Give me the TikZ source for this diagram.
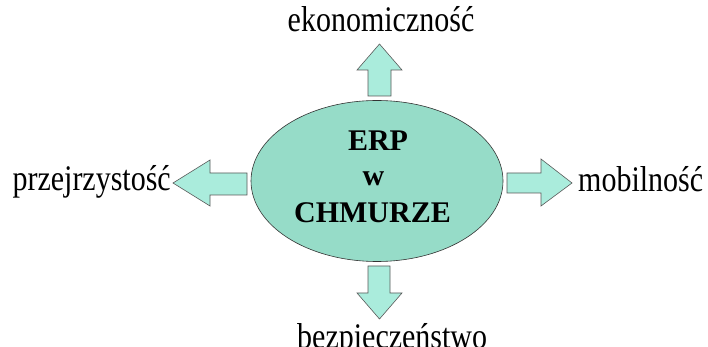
\documentclass[tikz,border=0pt]{standalone}
\usepackage{fontspec}
\setmainfont{Liberation Serif}
\tikzset{
  blockarrow/.style={draw=black!65, fill=arrowfill, line width=0.6pt, line join=miter},
  hub/.style={draw=black!80, fill=hubfill, line width=0.6pt},
  label/.style={inner sep=0pt, font=\fontsize{30}{36}\selectfont},
  hubtext/.style={inner sep=0pt, font=\fontsize{30}{36}\selectfont\bfseries},
}
\definecolor{hubfill}{RGB}{150,220,200}
\definecolor{arrowfill}{RGB}{170,236,220}
\newcommand{\tall}[1]{\scalebox{1}[1.2]{#1}}
\begin{document}
\begin{tikzpicture}[x=1pt,y=1pt]
\useasboundingbox (0,0) rectangle (708,347);

% central ellipse
\draw[hub] (377,166) ellipse [x radius=126, y radius=80.5];
\coordinate (hub) at (377,166);

% block arrows pointing outwards
\draw[blockarrow] (368,251) -- (368,277) -- (357,277) -- (379.5,303)
  -- (402,277) -- (391,277) -- (391,251) -- cycle;
\draw[blockarrow] (368,81) -- (368,54) -- (357,54) -- (379.5,28)
  -- (402,54) -- (390,54) -- (390,81) -- cycle;
\draw[blockarrow] (247,174) -- (210,174) -- (210,187) -- (173,164)
  -- (210,141) -- (210,152) -- (247,152) -- cycle;
\draw[blockarrow] (507,174) -- (541,174) -- (541,188) -- (572,164)
  -- (541,141) -- (541,154) -- (507,154) -- cycle;

% labels
\node[label, anchor=base] (top) at (381,315) {\tall{ekonomiczność}};
\node[label, anchor=base east] (left) at (171,156) {\tall{przejrzystość}};
\node[label, anchor=base west] (right) at (578,155) {\tall{mobilność}};
\node[label, anchor=base west] (bottom) at (297,-2) {\tall{bezpieczeństwo}};

% text inside the ellipse
\node[hubtext, anchor=base] (erp) at (378,196) {ERP};
\node[hubtext, anchor=base] (w) at (373.5,161) {w};
\node[hubtext, anchor=base] (cloud) at (372.5,124) {CHMURZE};
\end{tikzpicture}
\end{document}
